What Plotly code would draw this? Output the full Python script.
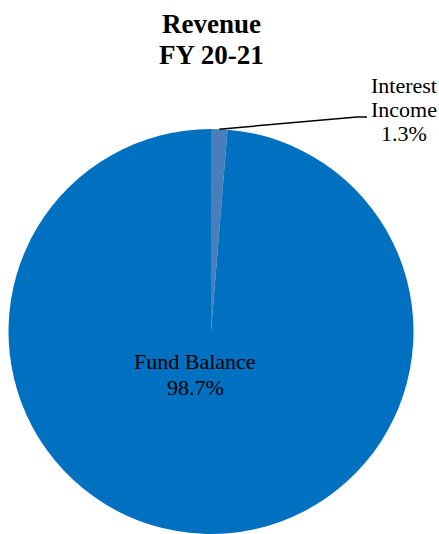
import math
import plotly.graph_objects as go

# Revenue breakdown, FY 20-21 (listed clockwise from 12 o'clock)
categories = ["Interest Income", "Fund Balance"]
shares = [1.3, 98.7]
slice_colors = ["#4A7EBB", "#0070C0"]
title_lines = ["Revenue", "FY 20-21"]

W, H = 439, 534
FONT = "Liberation Serif"

# pie placement (paper fractions)
dom_x = [8 / W, 414 / W]
dom_y = [0.0, (534 - 129) / H]

fig = go.Figure(go.Pie(
    labels=categories,
    values=shares,
    marker=dict(colors=slice_colors, line=dict(width=0)),
    sort=False,
    direction="clockwise",
    rotation=0,
    textinfo="none",
    hoverinfo="label+percent",
    domain=dict(x=dom_x, y=dom_y),
    showlegend=False,
))

total = sum(shares)
pct = [f"{v / total * 100:.1f}%" for v in shares]

annotations = []
# title, one line per annotation
for i, line in enumerate(title_lines):
    annotations.append(dict(
        x=211 / W, y=1 - (24 + 31 * i) / H, xref="paper", yref="paper",
        text=f"<b>{line}</b>", showarrow=False,
        font=dict(family=FONT, size=27, color="black"),
        xanchor="center", yanchor="middle",
    ))

# inside label for the large slice
annotations.append(dict(
    x=195 / W, y=1 - 361 / H, xref="paper", yref="paper",
    text=categories[1], showarrow=False,
    font=dict(family=FONT, size=22, color="black"),
    xanchor="center", yanchor="middle",
))
annotations.append(dict(
    x=195 / W, y=1 - 387 / H, xref="paper", yref="paper",
    text=pct[1], showarrow=False,
    font=dict(family=FONT, size=22, color="black"),
    xanchor="center", yanchor="middle",
))

# outside label for the small slice
small_lines = categories[0].split(" ") + [pct[0]]
for i, line in enumerate(small_lines):
    annotations.append(dict(
        x=404 / W, y=1 - (85 + 24.5 * i) / H, xref="paper", yref="paper",
        text=line, showarrow=False,
        font=dict(family=FONT, size=22, color="black"),
        xanchor="center", yanchor="middle",
    ))

# leader line from the middle of the small slice's arc
cx = (dom_x[0] + dom_x[1]) / 2 * W
cy = (1 - (dom_y[0] + dom_y[1]) / 2) * H
r = min((dom_x[1] - dom_x[0]) * W, (dom_y[1] - dom_y[0]) * H) / 2
mid = (shares[0] / 2) / total * 2 * math.pi
sx = cx + r * math.sin(mid)
sy = cy - r * math.cos(mid)
path = f"M {sx / W} {1 - sy / H} L {357 / W} {1 - 117 / H} L {367 / W} {1 - 117 / H}"
shapes = [dict(type="path", xref="paper", yref="paper", path=path,
               line=dict(color="black", width=1.5))]

fig.update_layout(
    width=W, height=H,
    margin=dict(l=0, r=0, t=0, b=0),
    paper_bgcolor="white",
    plot_bgcolor="white",
    annotations=annotations,
    shapes=shapes,
)

fig.write_html("out.html")
